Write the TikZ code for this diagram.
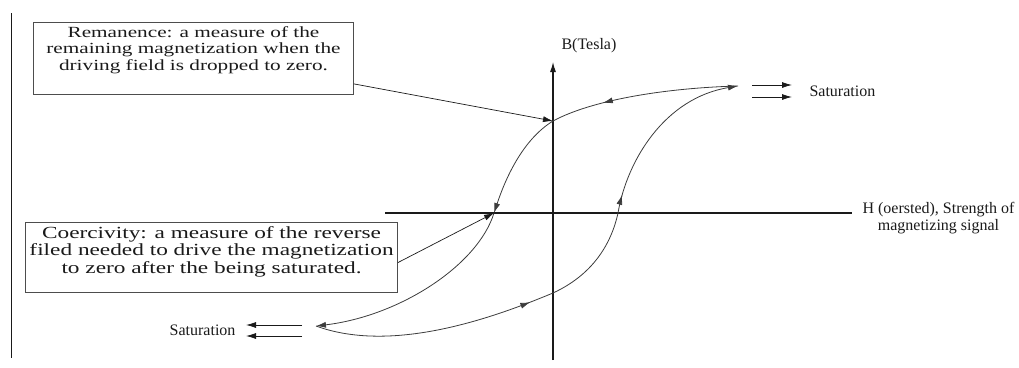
\documentclass[tikz,border=0pt]{standalone}
\usepackage{fontspec}
\setmainfont{Liberation Serif}
\newfontfamily\notefont[FakeStretch=1.37]{Liberation Serif}
\usetikzlibrary{arrows.meta, calc, decorations.markings}
\definecolor{ink}{HTML}{1A1A1A}
\definecolor{boxgray}{HTML}{4D4D4D}

\begin{document}
\begin{tikzpicture}[x=1pt, y=-1pt,
    >={Latex[length=10pt, width=6pt]},
    every node/.style={font=\fontsize{16}{17}\selectfont, text=ink},
    axis/.style={line width=1.1pt, ink},
    loopline/.style={line width=0.8pt, ink!85},
    pointer/.style={->, line width=0.7pt, ink},
    satarr/.style={->, line width=0.8pt, ink},
    % Annotation box
    notebox/.style={rectangle, draw=boxgray, line width=1pt, align=center,
                    inner sep=4pt, anchor=north west},
    tipat/.style={postaction={decorate},
                  decoration={markings, mark=at position #1 with {\arrow{>}}}}
]
\useasboundingbox (0,0) rectangle (1019,367);

% ========== Frame line ==========
\draw[line width=1pt, ink] (11,13) -- (11,358);

% ========== Axes ==========
\coordinate (bBot) at (553,360);
\coordinate (bTop) at (553,62);
\coordinate (hLeft) at (385,213);
\coordinate (hRight) at (852,213);
\draw[axis, ->] (bBot) -- (bTop);
\draw[axis] (hLeft) -- (hRight);

\node[anchor=west] (bLabel) at (558,46) {B(Tesla)};
\node[anchor=west, align=center] (hLabel) at (859,218)
    {H (oersted), Strength of\\magnetizing signal};

% ========== Hysteresis loop ==========
\coordinate (topSat) at (738,86);
\coordinate (rem) at (553,121);
\coordinate (coerL) at (494,213);
\coordinate (botSat) at (316,326);
\coordinate (cross) at (553,293);
\coordinate (coerR) at (618,213);

% --- descending branch ---
\draw[loopline, tipat=0.72] (topSat) .. controls (665,88) and (592,100) .. (rem);
\draw[loopline, ->] (rem) .. controls (522,140) and (505,180) .. (coerL);
\draw[loopline, ->] (coerL) .. controls (478,265) and (400,316) .. (botSat);
% --- ascending branch ---
\draw[loopline, tipat=0.9] (botSat) .. controls (395,355) and (500,315) .. (cross);
\draw[loopline] (cross) .. controls (592,275) and (611,245) .. (coerR);
\draw[loopline, ->, tipat=0.1] (coerR) .. controls (627,160) and (665,98) .. (topSat);

% ========== Saturation marks ==========
\node[anchor=west] (satTop) at (806,91) {Saturation};
\draw[satarr] ($(satTop.west)+(-54,-6)$) -- ++(40,0);
\draw[satarr] ($(satTop.west)+(-54,6)$) -- ++(40,0);

\node[anchor=east] (satBot) at (239,330) {Saturation};
\draw[satarr] ($(satBot.east)+(63,-5)$) -- ++(-56,0);
\draw[satarr] ($(satBot.east)+(63,6)$) -- ++(-56,0);

% ========== Notes ==========
\node[notebox, minimum width=320pt,
      font=\notefont\fontsize{15.5}{16.5}\selectfont] (remBox) at (33,22)
    {Remanence: a measure of the\\remaining magnetization when the\\driving field is dropped to zero.\rule[-20pt]{0pt}{1pt}};
\node[notebox, minimum width=365pt,
      font=\notefont\fontsize{17}{17.5}\selectfont] (coerBox) at (25,222)
    {Coercivity: a measure of the reverse\\filed needed to drive the magnetization\\to zero after the being saturated.\rule[-15pt]{0pt}{1pt}};

\draw[pointer] ([yshift=11pt]remBox.south east) -- (rem);
\draw[pointer] ([yshift=-5pt]coerBox.east) -- (coerL);

\end{tikzpicture}
\end{document}
